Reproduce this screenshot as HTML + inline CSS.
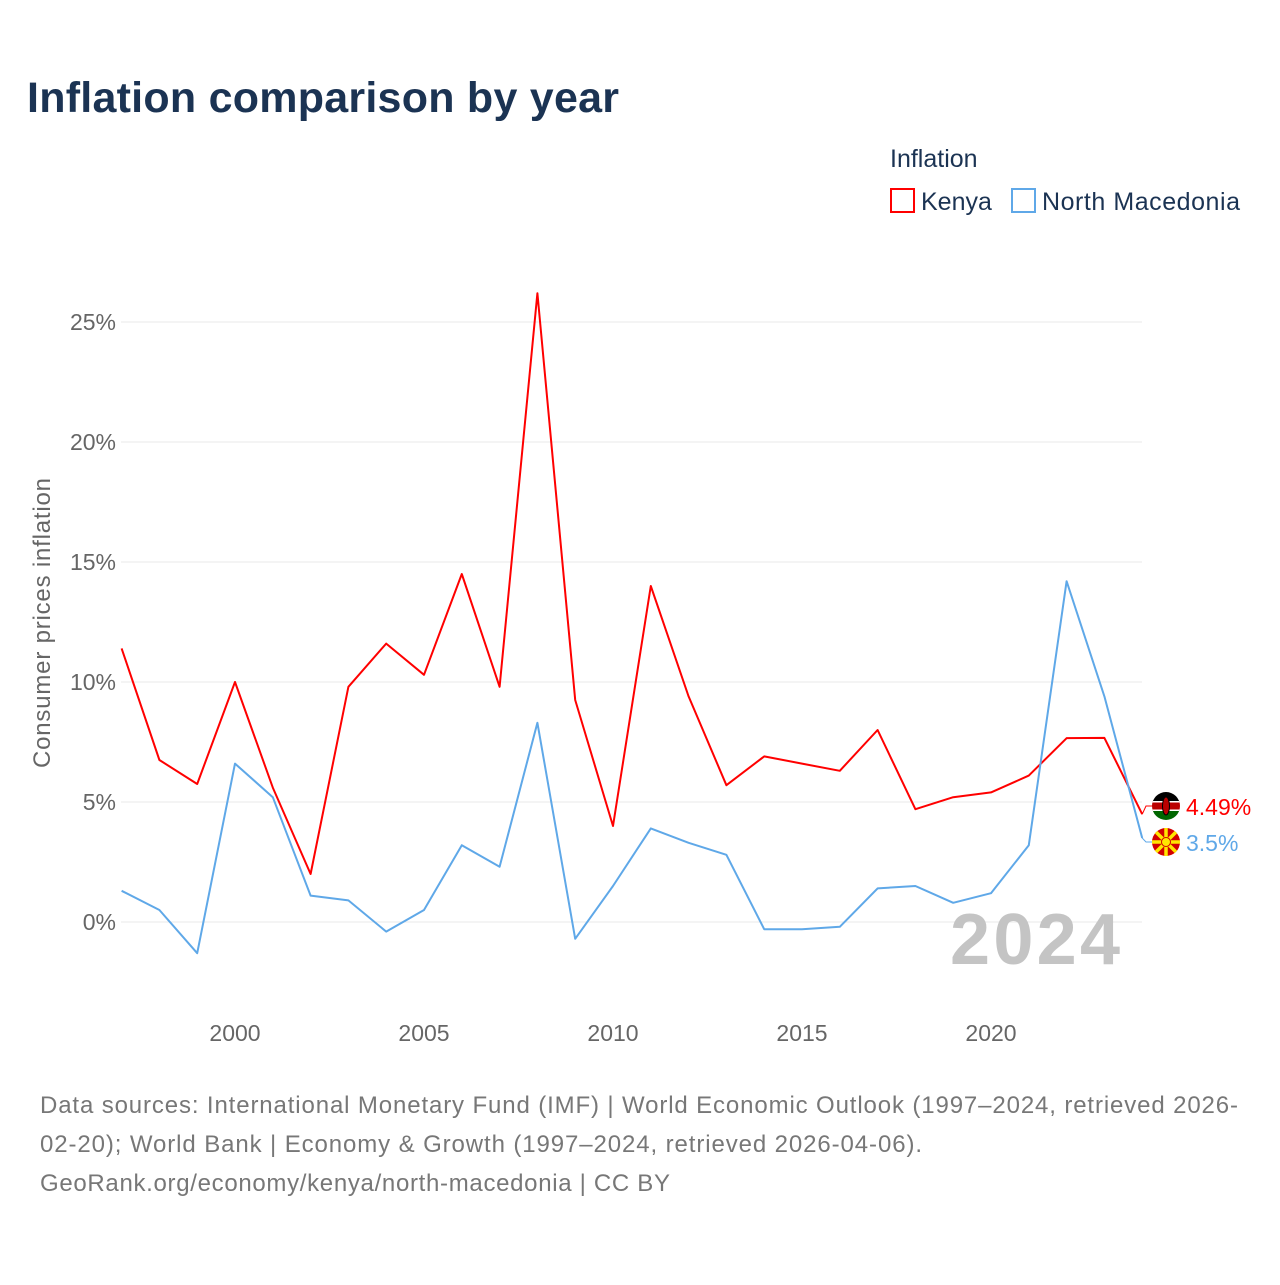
<!DOCTYPE html>
<html><head><meta charset="utf-8">
<style>
body{margin:0;background:#fff;font-family:"Liberation Sans",sans-serif;}
svg text{font-family:"Liberation Sans",sans-serif;}
</style></head>
<body>
<svg width="1280" height="1280" viewBox="0 0 1280 1280" id="chart">
<rect width="1280" height="1280" fill="#fff"/>
<text x="27" y="112" font-size="43" font-weight="bold" fill="#1b3353" textLength="592">Inflation comparison by year</text>
<text x="890" y="167" font-size="25" fill="#1b3353">Inflation</text>
<g>
<rect x="891" y="189" width="23" height="23" fill="none" stroke="#ff0000" stroke-width="2"/>
<text x="921" y="210" font-size="25" fill="#1b3353">Kenya</text></g>
<g>
<rect x="1012" y="189" width="23" height="23" fill="none" stroke="#5fa8e8" stroke-width="2"/>
<text x="1042" y="210" font-size="25" fill="#1b3353" textLength="198">North Macedonia</text></g>
<text transform="translate(50,623) rotate(-90)" text-anchor="middle" font-size="24" fill="#666" textLength="290">Consumer prices inflation</text>
<g id="grid"></g><g id="xticks"></g>
<text x="1120" y="964" text-anchor="end" font-size="72" font-weight="bold" fill="#c4c4c4" textLength="170">2024</text>
<g id="series"></g>
<text x="40" y="1113" font-size="24" fill="#777" textLength="1198">Data sources: International Monetary Fund (IMF) | World Economic Outlook (1997–2024, retrieved 2026-</text>
<text x="40" y="1152" font-size="24" fill="#777" textLength="882">02-20); World Bank | Economy &amp; Growth (1997–2024, retrieved 2026-04-06).</text>
<text x="40" y="1191" font-size="24" fill="#777" textLength="630">GeoRank.org/economy/kenya/north-macedonia | CC BY</text>
</svg>
<script>
const years=[1997,1998,1999,2000,2001,2002,2003,2004,2005,2006,2007,2008,2009,2010,2011,2012,2013,2014,2015,2016,2017,2018,2019,2020,2021,2022,2023,2024];
const kenya=[11.4,6.75,5.75,10.0,5.6,2.0,9.8,11.6,10.3,14.5,9.8,26.2,9.25,4.0,14.0,9.4,5.7,6.9,6.6,6.3,8.0,4.7,5.2,5.4,6.1,7.66,7.67,4.49];
const macedonia=[1.3,0.5,-1.3,6.6,5.2,1.1,0.9,-0.4,0.5,3.2,2.3,8.3,-0.7,1.5,3.9,3.3,2.8,-0.3,-0.3,-0.2,1.4,1.5,0.8,1.2,3.2,14.2,9.4,3.5];
const yTicks=[0,5,10,15,20,25];
const xTicks=[2000,2005,2010,2015,2020];
const NS="http://www.w3.org/2000/svg";
function xS(y){return 121.6+(y-1997)*37.8;}
function yS(v){return 922-v*24;}
function mk(tag,attrs,parent){const e=document.createElementNS(NS,tag);for(const k in attrs)e.setAttribute(k,attrs[k]);parent.appendChild(e);return e;}
const grid=document.getElementById('grid');
yTicks.forEach(t=>{
 const l=mk('line',{x1:121,x2:1142,y1:yS(t),y2:yS(t),stroke:'#e8e8e8','stroke-width':1},grid);
 
 
 const tx=mk('text',{x:116,y:yS(t)+8,'text-anchor':'end','font-size':23,fill:'#666'},grid);
 tx.textContent=t+'%';
 
 
});
const xt=document.getElementById('xticks');
xTicks.forEach(t=>{
 const tx=mk('text',{x:xS(t),y:1041,'text-anchor':'middle','font-size':23,fill:'#666'},xt);
 tx.textContent=t;
 
 
});
const sg=document.getElementById('series');
function line(vals,color,name){
 const p=mk('polyline',{points:vals.map((v,i)=>xS(years[i])+','+yS(v)).join(' '),fill:'none',stroke:color,'stroke-width':2,'stroke-linejoin':'round'},sg);
 
 
}
line(kenya,'#ff0000','kenya-line');
line(macedonia,'#5fa8e8','north-macedonia-line');
const lk=kenya[kenya.length-1], lm=macedonia[macedonia.length-1];
const ky=806, my=842;
mk('polyline',{points:`${xS(2024)},${yS(lk)} 1146,${ky} 1152,${ky}`,fill:'none',stroke:'#ff0000','stroke-width':1},sg);
mk('polyline',{points:`${xS(2024)},${yS(lm)} 1146,${my} 1152,${my}`,fill:'none',stroke:'#5fa8e8','stroke-width':1},sg);
const kf=mk('g',{},sg);


const cp=mk('clipPath',{id:'kc'},kf);
mk('circle',{cx:1166,cy:ky,r:14},cp);
const kg=mk('g',{'clip-path':'url(#kc)'},kf);
mk('rect',{x:1150,y:ky-14,width:32,height:9,fill:'#000'},kg);
mk('rect',{x:1150,y:ky-5,width:32,height:10,fill:'#bb0000'},kg);
mk('rect',{x:1150,y:ky+5,width:32,height:9,fill:'#006600'},kg);
mk('rect',{x:1150,y:ky-5,width:32,height:1.5,fill:'#fff'},kg);
mk('rect',{x:1150,y:ky+3.5,width:32,height:1.5,fill:'#fff'},kg);
mk('ellipse',{cx:1166,cy:ky,rx:3.5,ry:9,fill:'#bb0000',stroke:'#000','stroke-width':1},kg);
const mf=mk('g',{},sg);


mk('circle',{cx:1166,cy:my,r:14,fill:'#d20000'},mf);
for(let a=0;a<8;a++){const an=a*Math.PI/4;mk('line',{x1:1166,y1:my,x2:1166+14*Math.cos(an),y2:my+14*Math.sin(an),stroke:'#ffe600','stroke-width':3.5},mf);}
mk('circle',{cx:1166,cy:my,r:4.5,fill:'#ffe600',stroke:'#d20000','stroke-width':1},mf);
const t1=mk('text',{x:1186,y:ky+9,'font-size':23,fill:'#ff0000'},sg);
t1.textContent=lk+'%';


const t2=mk('text',{x:1186,y:my+9,'font-size':23,fill:'#5fa8e8'},sg);
t2.textContent=lm+'%';


</script>
</body></html>
